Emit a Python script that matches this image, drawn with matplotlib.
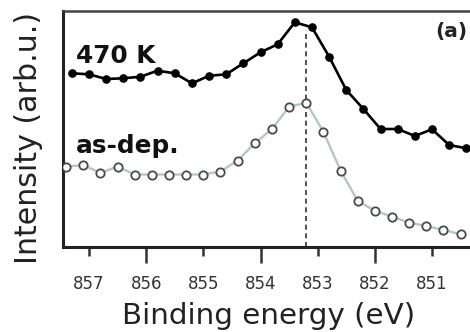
import numpy as np
import matplotlib
matplotlib.use("Agg")
import matplotlib.pyplot as plt
from matplotlib.ticker import FixedLocator, FixedFormatter

# ---- data ----
energy_470K = [857.3, 857.0, 856.7, 856.4, 856.1, 855.8, 855.5, 855.2, 854.9, 854.6,
               854.3, 854.0, 853.7, 853.4, 853.1, 852.8, 852.5, 852.2, 851.9, 851.6,
               851.3, 851.0, 850.7, 850.4]
intensity_470K = [1.734, 1.724, 1.677, 1.684, 1.700, 1.760, 1.734, 1.634, 1.709, 1.724,
                  1.834, 1.944, 2.024, 2.244, 2.194, 1.900, 1.567, 1.377, 1.177, 1.177,
                  1.107, 1.174, 1.017, 0.984]

energy_asdep = [857.4, 857.1, 856.8, 856.5, 856.2, 855.9, 855.6, 855.3, 855.0, 854.7,
                854.4, 854.1, 853.8, 853.5, 853.2, 852.9, 852.6, 852.3, 852.0, 851.7,
                851.4, 851.1, 850.8, 850.5]
intensity_asdep = [0.800, 0.817, 0.737, 0.802, 0.722, 0.722, 0.722, 0.722, 0.722, 0.752,
                   0.862, 1.034, 1.177, 1.400, 1.440, 1.150, 0.762, 0.457, 0.360, 0.300,
                   0.240, 0.207, 0.167, 0.124]

peak_energy = 853.2
major_ticks = [856, 854, 852]
minor_ticks = [857, 855, 853, 851]
series_labels = ["470 K", "as-dep."]
panel_label = "(a)"
xlabel = "Binding energy (eV)"
ylabel = "Intensity (arb.u.)"

# ---- figure ----
W, H = 470, 332
fig = plt.figure(figsize=(W / 100, H / 100), dpi=100)
plt.rcParams['font.family'] = ['DejaVu Sans']

def fx(px):
    return px / W

def fy(py):
    return (H - py) / H

ax_left, ax_right, ax_top, ax_bot = 62.5, 480, 11, 246.7
ax = fig.add_axes([fx(ax_left), fy(ax_bot), fx(ax_right - ax_left), fy(ax_top) - fy(ax_bot)])

x_px_857 = 89.0
px_per_ev = 57.17
ax.set_xlim(857 + (x_px_857 - ax_left) / px_per_ev, 857 - (ax_right - x_px_857) / px_per_ev)
ax.set_ylim(0, (ax_bot - ax_top) / 100)

ax.vlines(peak_energy, 0, (ax_bot - 30) / 100, colors='#333333', linestyles=(0, (3, 2.2)),
          linewidth=1.2, zorder=1)

ax.plot(energy_asdep, intensity_asdep, '-', color='#b3c7c5', linewidth=1.7, zorder=2)
ax.plot(energy_asdep, intensity_asdep, 'o', markerfacecolor='white', markeredgecolor='#4a4a4a',
        markeredgewidth=1.3, markersize=6.0, linestyle='none', zorder=3)

ax.plot(energy_470K, intensity_470K, '-', color='black', linewidth=1.9, zorder=4,
        marker='o', markersize=5.2, markerfacecolor='black', markeredgecolor='black')

# spines
for s in ['left', 'bottom']:
    ax.spines[s].set_linewidth(2.2)
    ax.spines[s].set_color('#222222')
ax.spines['top'].set_linewidth(1.8)
ax.spines['top'].set_color('#444444')
ax.spines['right'].set_visible(False)

# ticks
ax.xaxis.set_major_locator(FixedLocator(major_ticks))
ax.xaxis.set_major_formatter(FixedFormatter([str(t) for t in major_ticks]))
ax.xaxis.set_minor_locator(FixedLocator(minor_ticks))
ax.xaxis.set_minor_formatter(FixedFormatter([str(t) for t in minor_ticks]))
ax.tick_params(axis='x', which='major', direction='out', length=11.5, width=1.8,
               pad=9.0, labelsize=12, colors='#333333')
ax.tick_params(axis='x', which='minor', direction='out', length=6.5, width=1.8,
               pad=14.0, labelsize=12, colors='#333333')
ax.set_yticks([])

# texts
fig.text(fx(268.5), fy(324.5), xlabel, ha='center', va='baseline', fontsize=21.2, color='#222222')
fig.text(fx(29), fy(137.5), ylabel, ha='center', va='center', rotation=90,
         fontsize=21.6, color='#222222')
fig.text(fx(76), fy(63), series_labels[0], ha='left', va='baseline', fontsize=17.8,
         fontweight='bold', color='#111111')
fig.text(fx(75.7), fy(153), series_labels[1], ha='left', va='baseline', fontsize=17.8,
         fontweight='bold', color='#111111')
fig.text(fx(467), fy(31), panel_label, ha='right', va='center', fontsize=14.5,
         fontweight='bold', color='#222222')

fig.savefig('out.png', dpi=100)
